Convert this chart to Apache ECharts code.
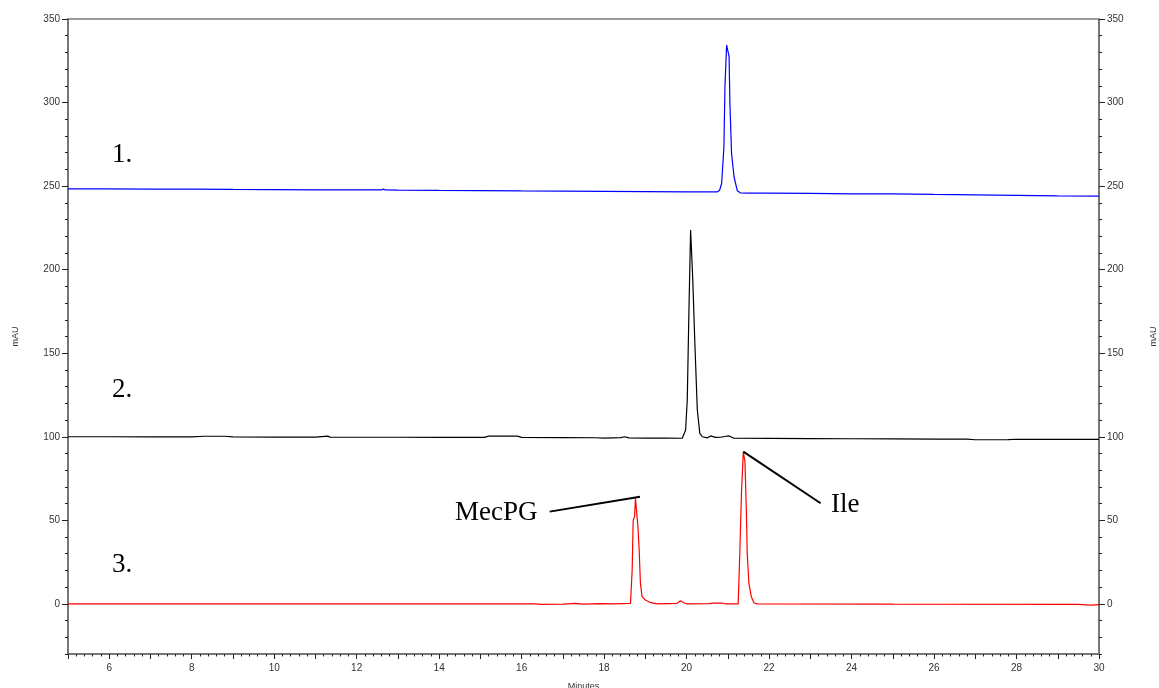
<!DOCTYPE html>
<html>
<head>
<meta charset="utf-8">
<script src="https://cdn.jsdelivr.net/npm/echarts@6/dist/echarts.min.js"></script>
<style>
html,body{margin:0;padding:0;background:#fff;}
#chart{width:1159px;height:688px;}
</style>
</head>
<body>
<div id="chart"></div>
<script>
// ---- data (minutes, mAU) ----
const trace1 = [[5,248.4],[6,248.3],[7,248.2],[8,248.2],[9,248.0],[10,247.9],[11,247.8],[12,247.7],[12.6,247.7],[12.65,248.2],[12.7,247.7],[13,247.6],[14,247.4],[15,247.3],[16,247.1],[17,247.0],[18,246.8],[19,246.7],[20,246.6],[20.5,246.5],[20.74,246.5],[20.8,247.5],[20.85,251.7],[20.905,273.6],[20.93,309.5],[20.97,334.4],[20.99,334],[21.0,331],[21.03,327.5],[21.05,299.6],[21.09,269.6],[21.15,255.6],[21.23,247.2],[21.3,246.0],[21.5,245.8],[22,245.8],[23,245.6],[24,245.4],[25,245.3],[26,245.0],[27,244.8],[28,244.5],[29,244.2],[30,244.0]];
const trace2 = [[5,100.0],[6,100.0],[7,99.9],[8,99.9],[8.3,100.3],[8.8,100.3],[9,99.9],[10,99.8],[11,99.8],[11.3,100.4],[11.35,99.8],[12,99.7],[13,99.7],[14,99.6],[15.1,99.6],[15.2,100.4],[15.9,100.4],[16,99.6],[17,99.5],[17.8,99.4],[18,99.2],[18.4,99.5],[18.5,100],[18.6,99.3],[19,99.2],[19.5,99.2],[19.895,99.1],[19.976,104.1],[20.016,122],[20.057,175.9],[20.097,223.7],[20.12,224.3],[20.15,193.8],[20.2,155.9],[20.26,116],[20.32,102],[20.38,100],[20.5,99.3],[20.58,100.5],[20.7,99.6],[20.83,99.7],[20.95,100.3],[21.03,100.5],[21.15,99.1],[22,99.0],[23,98.9],[24,98.8],[25,98.7],[26,98.6],[26.8,98.6],[27,98.2],[27.8,98.3],[28,98.5],[29,98.4],[30,98.4]];
const trace3 = [[5,0],[16.3,0],[16.5,-0.3],[17,-0.1],[17.3,0.3],[17.5,-0.2],[17.9,0.2],[18.2,0],[18.64,0.3],[18.68,20.3],[18.705,50.2],[18.74,52.2],[18.76,63.2],[18.79,62.2],[18.82,46.2],[18.85,32.2],[18.88,12.3],[18.92,4.3],[19.0,2.3],[19.13,0.7],[19.29,0],[19.77,0.3],[19.85,1.9],[19.93,0.7],[20.02,0],[20.55,0.1],[20.65,0.5],[20.85,0.5],[20.95,0],[21.25,0],[21.29,30.2],[21.33,66.1],[21.375,90.9],[21.415,85],[21.45,55],[21.47,30.2],[21.51,12.3],[21.57,4.3],[21.63,0.7],[21.72,0],[25,-0.2],[29.5,-0.3],[29.8,-0.8],[30,-0.5]];
const mecpgLeader = [[16.68,55.2],[18.87,64.1]];
const ileLeader = [[21.375,91.1],[23.25,60.2]];
const majorYTicks = [0,50,100,150,200,250,300,350];
const traceLabels = ['1.','2.','3.'];
const peakLabels = ['MecPG','Ile'];

const chart = echarts.init(document.getElementById('chart'), null, {renderer:'canvas'});
const axisFont = {fontFamily:'Liberation Sans, Arial, sans-serif', fontSize:10, color:'#333'};
const lineCol = '#6b6b6b';
function yMinor(pos, withLabel, gap){
  return {
    type:'value', position:pos, min:-30, max:350, interval:10,
    axisLine:{show:true, onZero:false, lineStyle:{color:lineCol, width:1.5}},
    axisTick:{show:true, length:3, lineStyle:{color:'#222'}},
    axisLabel:{show:withLabel, ...axisFont, margin:8, formatter:v => (v % 50 === 0 ? String(v) : '')},
    splitLine:{show:false},
    name:'mAU', nameLocation:'middle', nameGap:gap, nameRotate:90,
    nameTextStyle:{fontFamily:'Liberation Sans, Arial, sans-serif', fontSize:9, color:'#333'}
  };
}
function yMajor(pos){
  return {
    type:'value', position:pos, min:-30, max:350,
    axisLine:{show:false, onZero:false},
    axisTick:{show:true, length:6, customValues:majorYTicks, lineStyle:{color:'#222'}},
    axisLabel:{show:false},
    splitLine:{show:false}
  };
}
const option = {
  animation:false,
  backgroundColor:'#fff',
  grid:{left:68, right:60, top:19, bottom:34, containLabel:false, outerBoundsMode:'none',
        show:true, borderColor:'#7a7a7a', borderWidth:1.5, backgroundColor:'transparent'},
  xAxis:[{
    type:'value', min:5, max:30, interval:1,
    axisLine:{show:true, onZero:false, lineStyle:{color:lineCol, width:1.5}},
    axisTick:{show:true, length:5, lineStyle:{color:'#222'}},
    minorTick:{show:true, splitNumber:5, length:2.5, lineStyle:{color:'#222'}},
    axisLabel:{...axisFont, margin:9, formatter:v => (v % 2 === 0 ? String(v) : '')},
    splitLine:{show:false}, minorSplitLine:{show:false},
    name:'Minutes', nameLocation:'middle', nameGap:28,
    nameTextStyle:{fontFamily:'Liberation Sans, Arial, sans-serif', fontSize:9, color:'#333'}
  }],
  yAxis:[yMinor('left', true, 48), yMajor('left'), yMinor('right', true, 50), yMajor('right')],
  series:[
    {type:'line', data:trace1, showSymbol:false, symbol:'none', lineStyle:{color:'#0000ff', width:1.2}, xAxisIndex:0, yAxisIndex:0},
    {type:'line', data:trace2, showSymbol:false, symbol:'none', lineStyle:{color:'#000000', width:1.2}, xAxisIndex:0, yAxisIndex:0},
    {type:'line', data:trace3, showSymbol:false, symbol:'none', lineStyle:{color:'#ff0000', width:1.2}, xAxisIndex:0, yAxisIndex:0},
    {type:'line', data:mecpgLeader, showSymbol:false, symbol:'none', lineStyle:{color:'#000', width:2}, yAxisIndex:0},
    {type:'line', data:ileLeader, showSymbol:false, symbol:'none', lineStyle:{color:'#000', width:2}, yAxisIndex:0}
  ],
  graphic:[
    {type:'text', left:112, top:141, style:{text:traceLabels[0], font:'27px "Liberation Serif", "Times New Roman", serif', fill:'#000'}},
    {type:'text', left:112, top:376, style:{text:traceLabels[1], font:'27px "Liberation Serif", "Times New Roman", serif', fill:'#000'}},
    {type:'text', left:112, top:551, style:{text:traceLabels[2], font:'27px "Liberation Serif", "Times New Roman", serif', fill:'#000'}},
    {type:'text', left:455, top:499, style:{text:peakLabels[0], font:'27px "Liberation Serif", "Times New Roman", serif', fill:'#000'}},
    {type:'text', left:831, top:491, style:{text:peakLabels[1], font:'27px "Liberation Serif", "Times New Roman", serif', fill:'#000'}}
  ]
};
chart.setOption(option);
</script>
</body>
</html>
